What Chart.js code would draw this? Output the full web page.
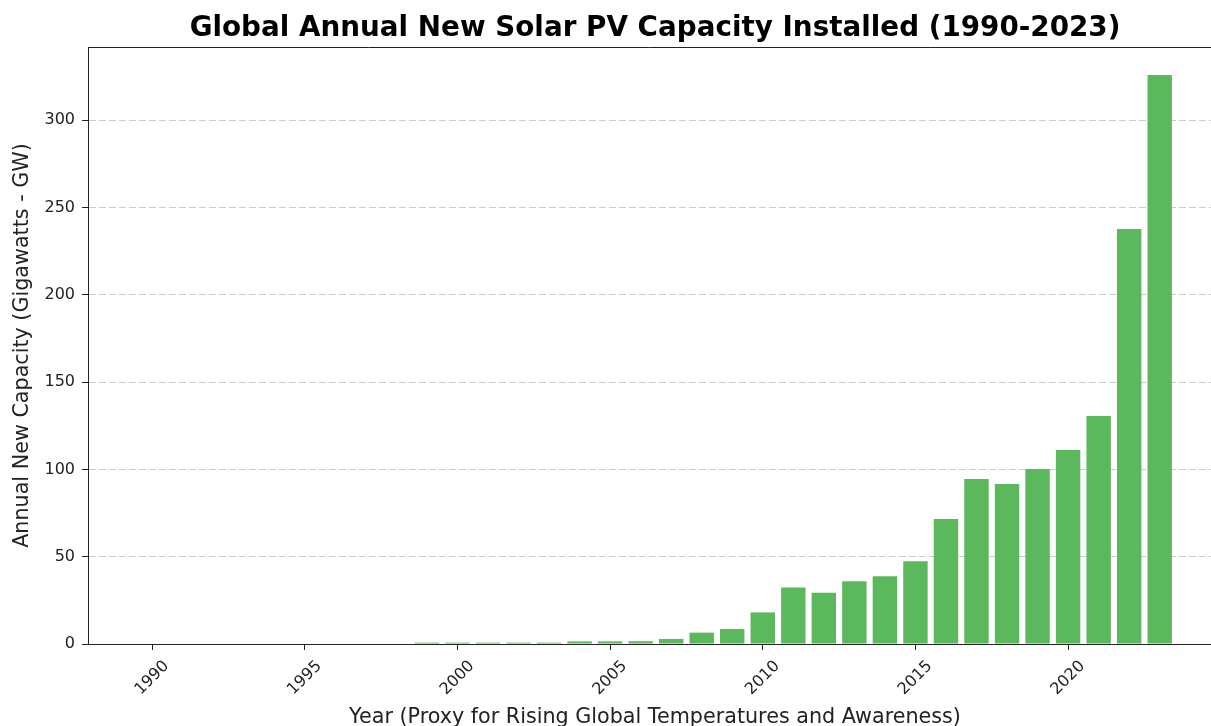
<!DOCTYPE html>
<html>
<head>
<meta charset="utf-8">
<script src="https://cdn.jsdelivr.net/npm/chart.js@4.4.0/dist/chart.umd.min.js"></script>
<style>
  html, body { margin: 0; padding: 0; background: #fff; }
  #wrap { width: 1211px; height: 726px; }
</style>
</head>
<body>
<div id="wrap"><canvas id="solarChart" width="1211" height="726"></canvas></div>
<script>
// Annual new solar PV capacity (GW)
const years = [1990, 1991, 1992, 1993, 1994, 1995, 1996, 1997, 1998, 1999,
  2000, 2001, 2002, 2003, 2004, 2005, 2006, 2007, 2008, 2009,
  2010, 2011, 2012, 2013, 2014, 2015, 2016, 2017, 2018, 2019,
  2020, 2021, 2022, 2023];
const capacityGW = [0, 0, 0, 0, 0, 0, 0, 0, 0, 0.8,
  0.8, 0.8, 0.8, 0.8, 1.5, 1.5, 1.6, 2.9, 6.5, 8.6,
  18.1, 32.3, 29.4, 35.9, 38.8, 47.4, 71.6, 94.5, 91.6, 100.2,
  111.1, 130.6, 237.7, 325.9];
const yTicks = [0, 50, 100, 150, 200, 250, 300];

const chartTitle = 'Global Annual New Solar PV Capacity Installed (1990-2023)';
const xTitle = 'Year (Proxy for Rising Global Temperatures and Awareness)';
const yTitle = 'Annual New Capacity (Gigawatts - GW)';

const FONT = "'DejaVu Sans', sans-serif";
const INK = '#222';

// title, top spine and rotated year labels (centered like matplotlib)
const decorations = {
  id: 'decorations',
  afterDraw(chart) {
    const ctx = chart.ctx;
    const area = chart.chartArea;
    const xScale = chart.scales.x;
    const axesCenter = 655;

    ctx.save();
    ctx.strokeStyle = INK;
    ctx.lineWidth = 1;
    ctx.beginPath();
    ctx.moveTo(area.left, area.top + 0.5);
    ctx.lineTo(area.right, area.top + 0.5);
    ctx.stroke();

    ctx.fillStyle = '#000';
    ctx.font = 'bold 27.8px ' + FONT;
    ctx.textAlign = 'center';
    ctx.textBaseline = 'middle';
    ctx.fillText(chartTitle, axesCenter, 29);

    ctx.fillStyle = INK;
    ctx.font = '16px ' + FONT;
    xScale.ticks.forEach(t => {
      const x = xScale.getPixelForValue(t.value);
      ctx.save();
      ctx.translate(x, 678);
      ctx.rotate(-Math.PI / 4);
      ctx.fillText(String(t.value), 0, 0);
      ctx.restore();
    });

    ctx.font = '20.7px ' + FONT;
    ctx.textBaseline = 'alphabetic';
    ctx.fillText(xTitle, axesCenter, 723);
    ctx.restore();
  }
};

const ctx = document.getElementById('solarChart').getContext('2d');
new Chart(ctx, {
  type: 'bar',
  data: {
    datasets: [{
      label: 'New capacity (GW)',
      data: years.map((yr, i) => ({ x: yr, y: capacityGW[i] })),
      backgroundColor: '#5cb85c',
      borderWidth: 0,
      barPercentage: 0.8,
      categoryPercentage: 1.0
    }]
  },
  options: {
    responsive: false,
    animation: false,
    devicePixelRatio: 1,
    layout: { padding: { top: 47, right: 0, bottom: 0, left: 0 } },
    plugins: {
      legend: { display: false },
      tooltip: { enabled: false },
      title: { display: false }
    },
    scales: {
      x: {
        type: 'linear',
        offset: false,
        min: 1987.9,
        max: 2024.68,
        afterFit(scale) { scale.height = 82; },
        grid: {
          offset: false,
          drawOnChartArea: false,
          drawTicks: true,
          tickLength: 6,
          tickColor: INK
        },
        border: { color: INK, width: 1 },
        ticks: { display: false, stepSize: 5, includeBounds: false }
      },
      y: {
        min: 0,
        max: 342,
        afterFit(scale) { scale.width = 88; },
        grid: {
          color: 'rgba(0,0,0,0.2)',
          lineWidth: 1,
          tickLength: 6,
          tickColor: INK,
          tickBorderDash: []
        },
        border: { color: INK, width: 1, dash: [7, 3] },
        ticks: {
          stepSize: 50,
          includeBounds: false,
          padding: 7,
          color: INK,
          font: { family: FONT, size: 16 }
        },
        title: {
          display: true,
          text: yTitle,
          color: INK,
          font: { family: FONT, size: 20.7 },
          padding: { top: 10, bottom: 0 }
        }
      }
    }
  },
  plugins: [decorations]
});
</script>
</body>
</html>
